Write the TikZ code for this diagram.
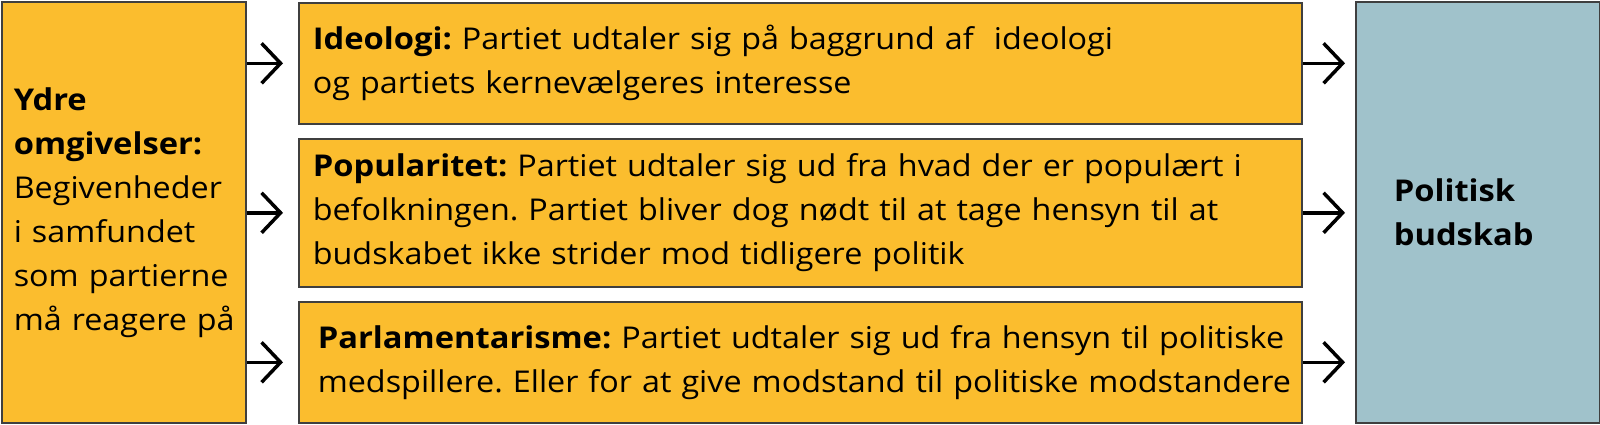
\documentclass[tikz,border=0pt]{standalone}
\usepackage{fontspec}
\setmainfont{Open Sans}[UprightFeatures={FakeStretch=1.077},BoldFeatures={FakeStretch=1.09}]
\usetikzlibrary{arrows.meta}
\definecolor{boxorange}{HTML}{FBBD2E}
\definecolor{boxblue}{HTML}{A0C2CB}
\definecolor{boxline}{HTML}{3F3F3F}
\begin{document}
\frenchspacing
\begin{tikzpicture}[x=1pt,y=-1pt,
  box/.style={draw=boxline, line width=1.6pt, fill=boxorange, anchor=north west,
    inner ysep=0pt, align=left, font=\fontsize{30}{44}\selectfont},
  arr/.style={-{Straight Barb[length=19pt,width=40pt,line width=3.5pt]}, line width=3.5pt}]
\useasboundingbox (0,0) rectangle (1600,424);
\node[box, minimum height=421pt, text width=220pt, inner xsep=12pt] (env) at (1,1)
  {\mbox{\textbf{Ydre}}\\\mbox{\textbf{omgivelser:}}\\\mbox{Begivenheder}\\\mbox{i samfundet}\\\mbox{som partierne}\\\mbox{må reagere på}};
\node[box, minimum height=121pt, text width=975pt, inner xsep=14pt] (ideo) at (298,2)
  {\mbox{\textbf{Ideologi:} Partiet udtaler sig på baggrund af\ \ ideologi}\\\mbox{og partiets kernevælgeres interesse}};
\node[box, minimum height=148pt, text width=975pt, inner xsep=14pt] (pop) at (298,138)
  {\mbox{\textbf{Popularitet:} Partiet udtaler sig ud fra hvad der er populært i}\\\mbox{befolkningen. Partiet bliver dog nødt til at tage hensyn til at}\\\mbox{budskabet ikke strider mod tidligere politik}};
\node[box, minimum height=121pt, text width=965pt, inner xsep=19pt] (parl) at (298,301)
  {\mbox{\textbf{Parlamentarisme:} Partiet udtaler sig ud fra hensyn til politiske}\\\mbox{medspillere. Eller for at give modstand til politiske modstandere}};
\node[box, fill=boxblue, minimum height=421pt, text width=168pt, inner xsep=38pt] (msg) at (1355,1)
  {\textbf{Politisk}\\\textbf{budskab}};
\foreach \t in {ideo,pop,parl}{
  \draw[arr, shorten >=15pt] (env.east |- \t.west) -- (\t.west);
  \draw[arr, shorten >=10pt] (\t.east) -- (msg.west |- \t.east);
}
\end{tikzpicture}
\end{document}
